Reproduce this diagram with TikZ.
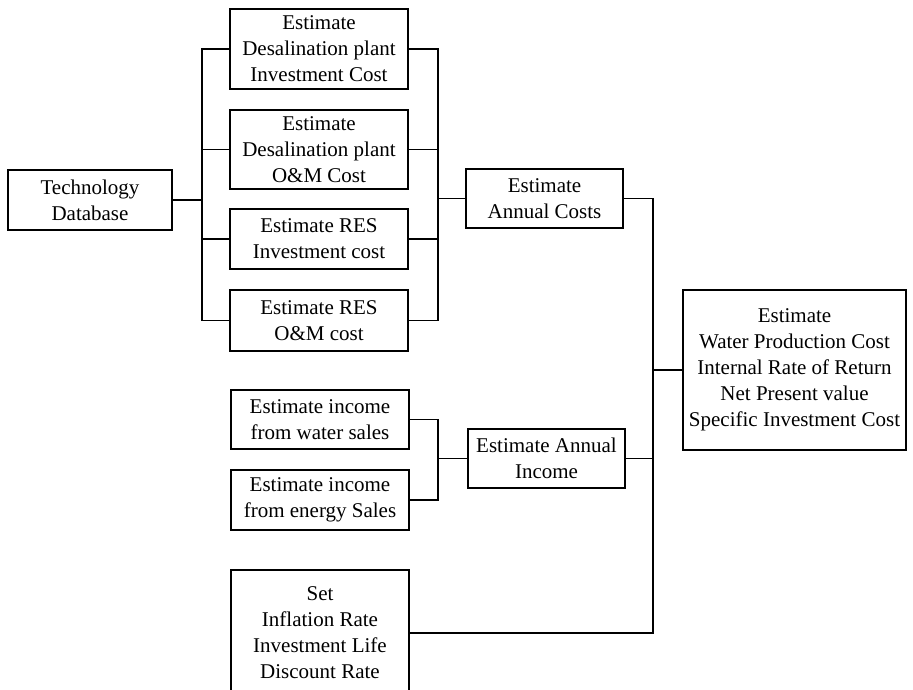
\documentclass[tikz,border=0pt]{standalone}
\usepackage{fontspec}
\setmainfont{Liberation Serif}
\begin{document}
\begin{tikzpicture}[x=1pt,y=-1pt,
  blk/.style={draw,line width=1.6pt,align=center,inner sep=0pt,
    minimum width=178,font=\fontsize{21}{26}\selectfont},
  wire/.style={line width=1.5pt}]
  \useasboundingbox (0,0) rectangle (913,689);
  \clip (0,0) rectangle (913,689);

  \node[blk,minimum width=164,minimum height=60] (tech) at (90,200) {Technology\\Database};
  \node[blk,minimum height=80] (plantinv) at (319,49) {Estimate\\Desalination plant\\Investment Cost};
  \node[blk,minimum height=79] (plantom) at (319,149.5) {Estimate\\Desalination plant\\O\&M Cost};
  \node[blk,minimum height=60] (resinv) at (319,239) {Estimate RES\\Investment cost};
  \node[blk,minimum height=61] (resom) at (319,320.5) {Estimate RES\\O\&M cost};
  \node[blk,minimum width=157,minimum height=59] (costs) at (544.5,198.5) {Estimate\\Annual Costs};
  \node[blk,minimum height=59] (water) at (320,419.5) {Estimate income\\from water sales};
  \node[blk,minimum height=60] (energy) at (320,500) {Estimate income\\from energy Sales};
  \node[blk,minimum width=157,minimum height=59] (income) at (546.5,458.5) {Estimate Annual\\Income};
  \node[blk,minimum height=126] (set) at (320,633) {Set\\Inflation Rate\\Investment Life\\Discount Rate};
  \node[blk,minimum width=223,minimum height=160] (result) at (794.5,370)
    {Estimate\\Water Production Cost\\Internal Rate of Return\\Net Present value\\Specific Investment Cost};

  \coordinate (lb) at (202,0);
  \coordinate (rb) at (438,0);
  \coordinate (mb) at (653,0);

  \draw[wire] (plantinv.west) -- (plantinv.west -| lb) |- (resom.west);
  \draw[wire] (plantom.west) -- (plantom.west -| lb);
  \draw[wire] (resinv.west) -- (resinv.west -| lb);
  \draw[wire] (tech.east) -- (tech.east -| lb);

  \draw[wire] (plantinv.east) -- (plantinv.east -| rb) |- (resom.east);
  \draw[wire] (plantom.east) -- (plantom.east -| rb);
  \draw[wire] (resinv.east) -- (resinv.east -| rb);
  \draw[wire] (costs.west) -- (costs.west -| rb);

  \draw[wire] (water.east) -- (water.east -| rb) |- (energy.east);
  \draw[wire] (income.west) -- (income.west -| rb);

  \draw[wire] (costs.east) -- (costs.east -| mb) |- (set.east);
  \draw[wire] (income.east) -- (income.east -| mb);
  \draw[wire] (result.west) -- (result.west -| mb);
\end{tikzpicture}
\end{document}
